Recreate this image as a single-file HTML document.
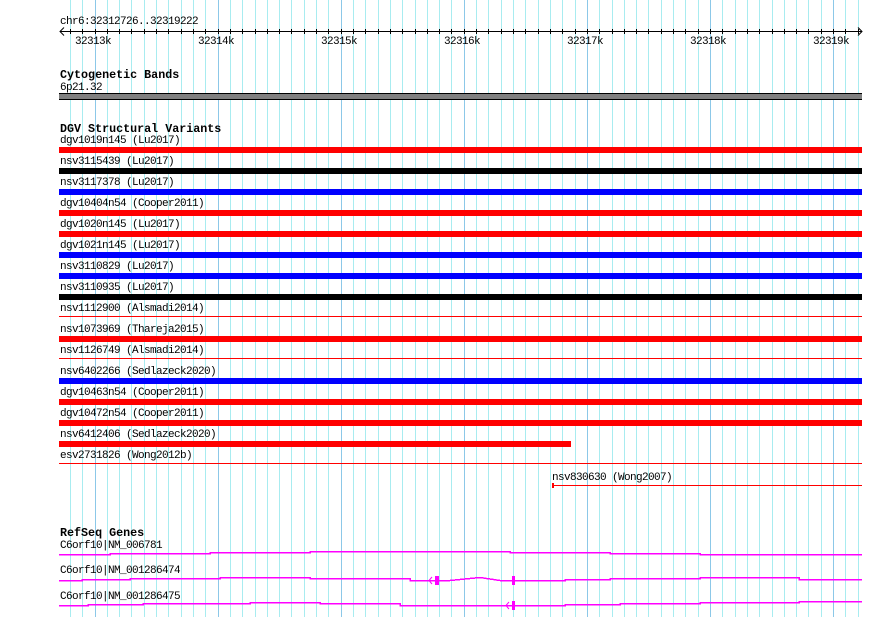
<!DOCTYPE html>
<html><head><style>
body{margin:0;background:#fff;}
svg{display:block;}
text{font-family:"Liberation Mono",monospace;font-size:11px;letter-spacing:-0.6px;fill:#000;}
.b{font-weight:bold;font-size:11.7px;letter-spacing:0;}
</style></head><body>
<svg width="890" height="617" xmlns="http://www.w3.org/2000/svg" shape-rendering="crispEdges">
<g id="grid"></g>
<g id="axis" stroke="#000"></g>
<text x="60" y="24">chr6:32312726..32319222</text>
<line x1="60" y1="31.5" x2="862" y2="31.5" stroke="#000"/>
<polyline points="64,27.5 60,31.5 64,35.5" fill="none" stroke="#000" shape-rendering="auto"/>
<polyline points="858,27.5 862,31.5 858,35.5" fill="none" stroke="#000" shape-rendering="auto"/>
<text x="75" y="44">32313k</text><text x="198" y="44">32314k</text><text x="321" y="44">32315k</text><text x="444" y="44">32316k</text><text x="567" y="44">32317k</text><text x="690" y="44">32318k</text><text x="813" y="44">32319k</text>
<text class="b" x="60" y="78">Cytogenetic Bands</text>
<text x="60" y="90">6p21.32</text>
<rect x="59" y="93" width="803" height="7" fill="#808080"/>
<line x1="59" y1="93.5" x2="862" y2="93.5" stroke="#000"/>
<line x1="59" y1="99.5" x2="862" y2="99.5" stroke="#000"/>
<text class="b" x="60" y="132">DGV Structural Variants</text>
<g id="rows"></g>
<text x="552" y="480">nsv830630 (Wong2007)</text>
<line x1="552" y1="485.5" x2="862" y2="485.5" stroke="#f00"/>
<rect x="552" y="483" width="2" height="5" fill="#f00"/>
<text class="b" x="60" y="536">RefSeq Genes</text>
<text x="60" y="548">C6orf10|NM_006781</text>
<text x="60" y="573">C6orf10|NM_001286474</text>
<text x="60" y="599">C6orf10|NM_001286475</text>
<g fill="none" stroke="#f0f" stroke-width="1.5">
<polyline points="59,554.5 110,554.5 110,553.5 210,553.5 210,552.5 310,552.5 310,551.5 510,551.5 510,552.5 610,552.5 610,553.5 700,553.5 700,554.5 862,554.5"/>
<polyline points="59,580.5 82,580.5 82,579.5 130,579.5 130,578.5 220,578.5 220,577.5 310,577.5 310,578.5 410,578.5 410,580.5 437,580.5 450,580.5 480,577.5 500,580.5 515,580.5 565,580.5 565,579.5 610,579.5 610,578.5 700,578.5 700,577.5 799,577.5 799,579.5 862,579.5"/>
<polyline points="59,605.5 88,605.5 88,604.5 143,604.5 143,603.5 250,603.5 250,602.5 320,602.5 320,603.5 400,603.5 400,605.5 513,605.5 565,605.5 565,604.5 620,604.5 620,603.5 700,603.5 700,602.5 799,602.5 799,601.5 862,601.5"/>
</g>
<rect x="435" y="576" width="4" height="9" fill="#f0f"/>
<rect x="512" y="576" width="3" height="9" fill="#f0f"/>
<rect x="512" y="601" width="3" height="9" fill="#f0f"/>
<polyline points="432,577 429,580.5 432,584" fill="none" stroke="#f0f" shape-rendering="auto"/>
<polyline points="509,602 506,605.5 509,609" fill="none" stroke="#f0f" shape-rendering="auto"/>
</svg>
<script>
var ns="http://www.w3.org/2000/svg";
var g=document.getElementById('grid'),ax=document.getElementById('axis');
for(var i=-3;i<=62;i++){
 var x=Math.round(94.5+12.31*i)+0.5; if(x<59||x>862)continue;
 var maj=(i%10===0);
 var l=document.createElementNS(ns,'line');
 l.setAttribute('x1',x);l.setAttribute('x2',x);l.setAttribute('y1',0);l.setAttribute('y2',617);
 l.setAttribute('stroke',maj?'#8cc8e8':'#a8ecf0');g.appendChild(l);
 var t=document.createElementNS(ns,'line');
 t.setAttribute('x1',x);t.setAttribute('x2',x);t.setAttribute('y1',29);t.setAttribute('y2',34);
 ax.appendChild(t);
}
var rows=[["dgv1019n145 (Lu2017)","#f00"],["nsv3115439 (Lu2017)","#000"],["nsv3117378 (Lu2017)","#00f"],["dgv10404n54 (Cooper2011)","#f00"],["dgv1020n145 (Lu2017)","#f00"],["dgv1021n145 (Lu2017)","#00f"],["nsv3110829 (Lu2017)","#00f"],["nsv3110935 (Lu2017)","#000"],["nsv1112900 (Alsmadi2014)","t"],["nsv1073969 (Thareja2015)","#f00"],["nsv1126749 (Alsmadi2014)","t"],["nsv6402266 (Sedlazeck2020)","#00f"],["dgv10463n54 (Cooper2011)","#f00"],["dgv10472n54 (Cooper2011)","#f00"],["nsv6412406 (Sedlazeck2020)","p"],["esv2731826 (Wong2012b)","t"]];
var R=document.getElementById('rows');
rows.forEach(function(r,i){
 var y=147+21*i;
 var tx=document.createElementNS(ns,'text');tx.setAttribute('x',60);tx.setAttribute('y',y-4);tx.textContent=r[0];R.appendChild(tx);
 if(r[1]==='t'){var l=document.createElementNS(ns,'line');l.setAttribute('x1',59);l.setAttribute('x2',862);l.setAttribute('y1',y+1.5);l.setAttribute('y2',y+1.5);l.setAttribute('stroke','#f00');R.appendChild(l);}
 else{var rc=document.createElementNS(ns,'rect');rc.setAttribute('x',59);rc.setAttribute('y',y);rc.setAttribute('width',r[1]==='p'?512:803);rc.setAttribute('height',6);rc.setAttribute('fill',r[1]==='p'?'#f00':r[1]);R.appendChild(rc);}
});
</script>
</body></html>
